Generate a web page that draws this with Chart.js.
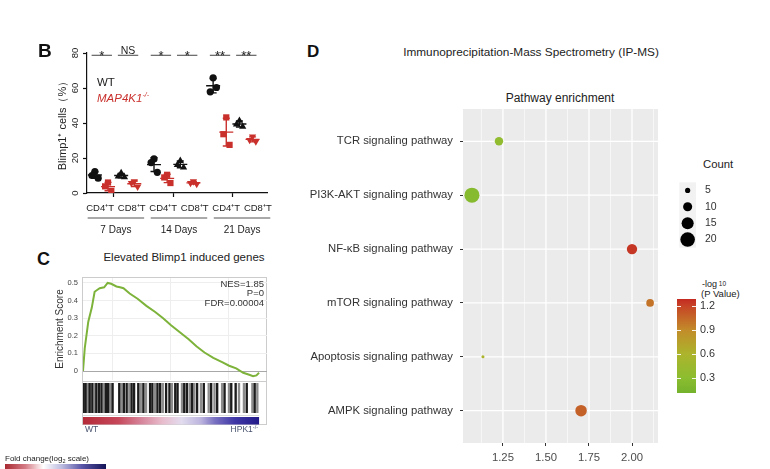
<!DOCTYPE html>
<html><head><meta charset="utf-8">
<script src="https://cdn.jsdelivr.net/npm/chart.js@4.4.1/dist/chart.umd.min.js"></script>
<style>
html,body{margin:0;padding:0;background:#fff;}
body{width:770px;height:469px;overflow:hidden;position:relative;font-family:"Liberation Sans",Arial,sans-serif;color:#222;}
.t{position:absolute;white-space:nowrap;line-height:1;}
canvas{position:absolute;display:block;}
</style></head><body>

<!-- Panel B -->
<canvas id="cB" width="290" height="215" style="left:0;top:30px"></canvas>
<div class="t" style="left:38px;top:40.5px;font-size:19px;font-weight:bold;color:#111">B</div>
<div class="t" style="left:97px;top:76.5px;font-size:11.5px;color:#222">WT</div>
<div class="t" style="left:97px;top:92.5px;font-size:11.5px;color:#c9302c;font-style:italic">MAP4K1<span style="font-size:7px;position:relative;top:-5px">-/-</span></div>

<!-- Panel C -->
<div class="t" style="left:37px;top:249.6px;font-size:18px;font-weight:bold;color:#111">C</div>
<div class="t" style="left:184px;top:251.5px;font-size:11.5px;color:#222;transform:translateX(-50%)">Elevated Blimp1 induced genes</div>
<div style="position:absolute;left:82px;top:277px;width:185px;height:148px;border:1px solid #cccccc;box-sizing:border-box"></div>
<div style="position:absolute;left:82px;top:381px;width:185px;height:1px;background:#cccccc"></div>
<canvas id="cES" width="245" height="115" style="left:30px;top:270px"></canvas>
<canvas id="cBar" width="245" height="50" style="left:30px;top:380px"></canvas>
<div class="t" style="right:506px;top:278.5px;font-size:9.5px;color:#333">NES=1.85</div>
<div class="t" style="right:506px;top:288px;font-size:9.5px;color:#333">P=0</div>
<div class="t" style="right:506px;top:298px;font-size:9.5px;color:#333">FDR=0.00004</div>
<div class="t" style="left:85px;top:425px;font-size:8.5px;color:#4a5470">WT</div>
<div class="t" style="right:512px;top:425px;font-size:8.5px;color:#4a5470">HPK1<span style="font-size:5.5px;position:relative;top:-3px">-/-</span></div>
<div class="t" style="left:5px;top:454.5px;font-size:8px;color:#222">Fold change(log<span style="font-size:5.5px;position:relative;top:2px">2</span> scale)</div>
<div style="position:absolute;left:5px;top:464px;width:101px;height:5px;background:linear-gradient(to right,#a82a32 0%,#d47a84 20%,#ffffff 38%,#bcbce0 56%,#5a56a8 76%,#141458 100%)"></div>

<!-- Panel D -->
<div class="t" style="left:307px;top:42.8px;font-size:17px;font-weight:bold;color:#111">D</div>
<div class="t" style="left:531px;top:47px;font-size:11.8px;color:#222;transform:translateX(-50%)">Immunoprecipitation-Mass Spectrometry (IP-MS)</div>
<div class="t" style="left:560px;top:92.3px;font-size:12px;color:#222;transform:translateX(-50%)">Pathway enrichment</div>
<canvas id="cD" width="380" height="384" style="left:290px;top:85px"></canvas>
<div class="t" style="left:703px;top:159px;font-size:11.3px;color:#222">Count</div>
<canvas id="cCnt" width="80" height="80" style="left:672px;top:175px"></canvas>
<div class="t" style="left:702px;top:280px;font-size:9px;color:#222">-log<span style="font-size:6.5px;position:relative;top:-1px"> 10</span></div>
<div class="t" style="left:701px;top:289px;font-size:9.5px;color:#222">(P Value)</div>
<canvas id="cCol" width="80" height="110" style="left:672px;top:290px"></canvas>

<script>
// ===================== DATA =====================
// Panel B: Blimp1+ cells (%), three replicates per group (7, 14, 21 days)
const dayGroups = ['7 Days', '14 Days', '21 Days'];
const cellLabels = ['CD4⁺T', 'CD8⁺T'];
const wtCD4 = [[12.3, 10.0, 8.5], [19.5, 17.4, 11.8], [65.8, 57.8, 60.3]];
const koCD4 = [[6.0, 3.8, 1.2], [10.4, 8.9, 5.7], [43.2, 33.6, 27.5]];
const wtCD8 = [[11.4, 9.5, 9.0], [18.4, 16.1, 14.6], [41.3, 39.2, 37.9]];
const koCD8 = [[6.6, 5.7, 3.5], [6.6, 5.7, 5.1], [32.2, 30.3, 29.4]];
const sigLabels = [['*', 'NS'], ['*', '*'], ['**', '**']];
const yTicksB = [0, 20, 40, 60, 80];

// Panel C: GSEA running enrichment score (rank % vs ES)
const esRank  = [0, 1, 3, 5, 6.6, 8, 9.5, 12, 14, 16, 19, 21, 23, 26.5, 31, 36, 41, 45.5, 50, 55, 60, 64.4, 69, 74, 79, 83, 87, 91, 94, 96.6, 98.5, 100];
const esScore = [0, 0.13, 0.28, 0.36, 0.45, 0.46, 0.47, 0.475, 0.50, 0.495, 0.48, 0.475, 0.47, 0.44, 0.41, 0.37, 0.335, 0.30, 0.26, 0.22, 0.18, 0.14, 0.105, 0.075, 0.05, 0.03, 0.015, -0.01, -0.02, -0.03, -0.025, -0.01];
const esTicks = [0, 0.1, 0.2, 0.3, 0.4, 0.5];
const esGridX = [16.5, 49.5, 82.5];
const hitsDark  = [0.4, 1.5, 3.8, 5.3, 7.6, 9.1, 10.5, 13.0, 14.3, 16.8, 20.6, 23.2, 24.8, 27.6, 29.0, 31.4, 34.3, 38.1, 39.4, 42.3, 43.8, 47.2, 49.1, 52.4, 53.7, 57.5, 59.0, 61.9, 64.8, 68.6, 72.8, 76.2, 80.4, 84.2, 86.7, 93.0, 97.5];
const hitsLight = [2.9, 6.7, 11.8, 15.6, 21.9, 26.3, 32.8, 35.8, 41.0, 45.3, 50.5, 56.2, 60.6, 63.2, 67.0, 71.4, 74.7, 79.0, 82.9, 88.6, 91.4, 96.2, 99.0];
const heatStops = [[0, '#b42a38'], [0.2, '#c6485a'], [0.33, '#d6849a'], [0.45, '#e8bccc'], [0.56, '#e2dcee'], [0.67, '#bcb4de'], [0.75, '#7870c0'], [0.86, '#4038a6'], [1, '#221a88']];

// Panel D: pathway enrichment
const pathways = ['TCR signaling pathway', 'PI3K-AKT signaling pathway', 'NF-κB signaling pathway', 'mTOR signaling pathway', 'Apoptosis signaling pathway', 'AMPK signaling pathway'];
const enrichment = [1.227, 1.07, 2.00, 2.105, 1.134, 1.704];
const counts = [9, 21, 12, 8, 3, 14];
const negLogP = [0.35, 0.25, 1.25, 1.0, 0.6, 1.08];
const xTicksD = [1.25, 1.50, 1.75, 2.00];
const xMinorD = [1.125, 1.375, 1.625, 1.875, 2.125];
const countBreaks = [5, 10, 15, 20];
const pBreaks = [0.3, 0.6, 0.9, 1.2];
const pLimits = [0.11, 1.29];
const pStops = [[0.11, '#74b22c'], [0.3, '#8cbd30'], [0.6, '#acb42c'], [0.9, '#c28c2a'], [1.2, '#c64426'], [1.29, '#c42a22']];

// ===================== HELPERS =====================
const FONT = "'Liberation Sans', Arial, sans-serif";
Chart.defaults.font.family = FONT;
Chart.defaults.color = '#333';
const RED = '#c9302c';
const noPad = sc => { sc.paddingTop = 0; sc.paddingBottom = 0; sc.paddingLeft = 0; sc.paddingRight = 0; };
const baseOpts = { responsive: false, animation: false, events: [], plugins: { legend: { display: false }, tooltip: { enabled: false } } };
function hexRgb(h) { return [1, 3, 5].map(i => parseInt(h.substr(i, 2), 16)); }
function colorOf(v) {
  for (let i = 0; i < pStops.length - 1; i++) {
    const [a, ca] = pStops[i], [b, cb] = pStops[i + 1];
    if (v <= b || i === pStops.length - 2) {
      const t = Math.max(0, Math.min(1, (v - a) / (b - a)));
      const A = hexRgb(ca), B = hexRgb(cb);
      return 'rgb(' + A.map((x, k) => Math.round(x + (B[k] - x) * t)).join(',') + ')';
    }
  }
}
const sizeOf = c => 2.1 * Math.sqrt(c) - 2.1;

// ===================== PANEL B =====================
const GROUP_STEP = 4.5;
const slot = (g, s) => g * GROUP_STEP + s;
const groupCenter = g => g * GROUP_STEP + 1.6 + g * 0.3;
const jitter = [0, -0.22, 0.25];
const seriesB = [
  { data: wtCD4, s: 0, color: '#111', style: 'circle', rot: 0, r: 3.6 },
  { data: koCD4, s: 1, color: RED, style: 'rect', rot: 0, r: 4.4 },
  { data: wtCD8, s: 2, color: '#111', style: 'triangle', rot: 0, r: 4.2 },
  { data: koCD8, s: 3, color: RED, style: 'triangle', rot: 180, r: 4.2 }
];
const bPlugin = {
  id: 'bExtras',
  afterDatasetsDraw(chart) {
    const { ctx, scales: { x, y } } = chart;
    ctx.save();
    seriesB.forEach(sr => {
      sr.data.forEach((vals, g) => {
        const m = vals.reduce((a, b) => a + b, 0) / vals.length;
        const sd = Math.sqrt(vals.reduce((a, b) => a + (b - m) * (b - m), 0) / (vals.length - 1));
        const cx = x.getPixelForValue(slot(g, sr.s));
        const ym = y.getPixelForValue(m), y1 = y.getPixelForValue(m - sd), y2 = y.getPixelForValue(m + sd);
        ctx.strokeStyle = sr.color; ctx.lineWidth = 1.4;
        ctx.beginPath();
        ctx.moveTo(cx - 7, ym); ctx.lineTo(cx + 7, ym);
        ctx.moveTo(cx, y1); ctx.lineTo(cx, y2);
        ctx.moveTo(cx - 3.5, y1); ctx.lineTo(cx + 3.5, y1);
        ctx.moveTo(cx - 3.5, y2); ctx.lineTo(cx + 3.5, y2);
        ctx.stroke();
      });
    });
    ctx.restore();
  },
  afterDraw(chart) {
    const { ctx, scales: { x, y } } = chart;
    ctx.save();
    const ly = y.getPixelForValue(78.7);
    dayGroups.forEach((d, g) => {
      [0, 1].forEach(c => {
        const x1 = x.getPixelForValue(slot(g, 2 * c) - 0.25), x2 = x.getPixelForValue(slot(g, 2 * c + 1) + 0.3);
        ctx.strokeStyle = '#444'; ctx.lineWidth = 1;
        ctx.beginPath(); ctx.moveTo(x1, ly); ctx.lineTo(x2, ly); ctx.stroke();
        const lab = sigLabels[g][c];
        ctx.fillStyle = '#222'; ctx.textAlign = 'center'; ctx.textBaseline = 'alphabetic';
        if (lab === 'NS') { ctx.font = '10.5px ' + FONT; ctx.fillText(lab, (x1 + x2) / 2, ly - 1.5); }
        else { ctx.font = '13px ' + FONT; ctx.fillText(lab, (x1 + x2) / 2, ly + 4.5); }
      });
    });
    const base = chart.chartArea.bottom;
    ctx.fillStyle = '#222'; ctx.textAlign = 'center'; ctx.textBaseline = 'middle';
    dayGroups.forEach((d, g) => {
      const c = groupCenter(g);
      ctx.font = '9.5px ' + FONT;
      ctx.fillText(cellLabels[0], x.getPixelForValue(c - 1.2), base + 15);
      ctx.fillText(cellLabels[1], x.getPixelForValue(c + 1.2), base + 15);
      ctx.strokeStyle = '#555'; ctx.lineWidth = 1;
      ctx.beginPath(); ctx.moveTo(x.getPixelForValue(c - 2.15), base + 25); ctx.lineTo(x.getPixelForValue(c + 2.15), base + 25); ctx.stroke();
      ctx.font = '10px ' + FONT;
      ctx.fillText(d, x.getPixelForValue(c), base + 37);
    });
    ctx.restore();
  }
};
new Chart(document.getElementById('cB'), {
  type: 'scatter',
  data: {
    datasets: seriesB.map(sr => ({
      data: sr.data.flatMap((vals, g) => vals.map((v, r) => ({ x: slot(g, sr.s) + jitter[r], y: v }))),
      pointStyle: sr.style, pointRotation: sr.rot, pointRadius: sr.r, pointHoverRadius: sr.r,
      pointBackgroundColor: sr.color, pointBorderColor: sr.color, pointBorderWidth: 0, showLine: false
    }))
  },
  options: Object.assign({}, baseOpts, {
    layout: { padding: { left: 56, right: 23, top: 23, bottom: 0 } },
    scales: {
      x: {
        type: 'linear', min: -0.6, max: 13.1,
        afterBuildTicks: sc => { sc.ticks = dayGroups.map((d, g) => ({ value: g * GROUP_STEP + 1.45 })); },
        afterFit: sc => { sc.height = 52; noPad(sc); },
        ticks: { display: false },
        grid: { display: true, drawOnChartArea: false, drawTicks: true, tickLength: 4, tickColor: '#111', tickWidth: 1.2 },
        border: { display: true, color: '#111', width: 1.2 }
      },
      y: {
        min: 0, max: 80,
        afterBuildTicks: sc => { sc.ticks = yTicksB.map(v => ({ value: v })); },
        afterFit: sc => { sc.width = 31; noPad(sc); },
        ticks: { minRotation: 90, maxRotation: 90, crossAlign: 'center', padding: 2, color: '#222', font: { size: 9.5 } },
        grid: { drawOnChartArea: false, drawTicks: true, tickLength: 4, tickColor: '#111', tickWidth: 1.2 },
        border: { display: true, color: '#111', width: 1.2 },
        title: { display: true, text: 'Blimp1⁺ cells（%）', padding: 0, color: '#222', font: { size: 11 } }
      }
    }
  }),
  plugins: [bPlugin]
});

// ===================== PANEL C =====================
new Chart(document.getElementById('cES'), {
  type: 'line',
  data: { datasets: [{ data: esRank.map((r, i) => ({ x: r, y: esScore[i] })), borderColor: '#7db33a', borderWidth: 2, pointRadius: 0, tension: 0, fill: false }] },
  options: Object.assign({}, baseOpts, {
    layout: { padding: { left: 24, right: 8, top: 8, bottom: 5 } },
    scales: {
      x: {
        type: 'linear', min: 0, max: 104.5,
        afterBuildTicks: sc => { sc.ticks = esGridX.map(v => ({ value: v })); },
        afterFit: sc => { sc.height = 0; noPad(sc); },
        ticks: { display: false },
        grid: { color: '#eeeeee', lineWidth: 1, drawTicks: false },
        border: { display: false }
      },
      y: {
        min: -0.051, max: 0.528,
        afterBuildTicks: sc => { sc.ticks = esTicks.map(v => ({ value: v })); },
        afterFit: sc => { sc.width = 29; noPad(sc); },
        ticks: { padding: 5, color: '#444', font: { size: 7.5 }, callback: v => String(v) },
        grid: { color: c => (c.tick && c.tick.value === 0) ? '#a8a8a8' : '#eeeeee', lineWidth: 1, drawTicks: false },
        border: { display: false },
        title: { display: true, text: 'Enrichment Score', padding: 0, color: '#333', font: { size: 10 } }
      }
    }
  })
});

const heatPlugin = {
  id: 'heat',
  afterDraw(chart) {
    const { ctx, scales: { x } } = chart;
    const x0 = x.getPixelForValue(0), x1 = x.getPixelForValue(100);
    const g = ctx.createLinearGradient(x0, 0, x1, 0);
    heatStops.forEach(([f, c]) => g.addColorStop(f, c));
    ctx.save();
    ctx.fillStyle = '#d8d8d8'; ctx.fillRect(x0, 35, x1 - x0, 1);
    ctx.fillStyle = g; ctx.fillRect(x0, 37, x1 - x0, 7.5);
    ctx.restore();
  }
};
new Chart(document.getElementById('cBar'), {
  type: 'bar',
  data: {
    datasets: [
      { data: hitsDark.map(r => ({ x: r, y: 1 })), backgroundColor: '#1c1c1c', barThickness: 1.7, grouped: false },
      { data: hitsLight.map(r => ({ x: r, y: 1 })), backgroundColor: '#8c8c8c', barThickness: 1.7, grouped: false }
    ]
  },
  options: Object.assign({}, baseOpts, {
    layout: { padding: { left: 53, right: 8, top: 3, bottom: 17 } },
    scales: {
      x: { type: 'linear', display: false, min: 0, max: 104.5, offset: false },
      y: { display: false, min: 0, max: 1 }
    }
  }),
  plugins: [heatPlugin]
});

// ===================== PANEL D =====================
// grey panel + white grid drawn just before the points
function makePanel(fill, gridX, gridY) {
  return {
    id: 'panel_' + fill.replace('#', ''),
    beforeDatasetsDraw(chart) {
      const { ctx, chartArea: a, scales } = chart;
      ctx.save();
      ctx.fillStyle = fill;
      ctx.fillRect(a.left, a.top, a.right - a.left, a.bottom - a.top);
      ctx.strokeStyle = '#ffffff';
      gridX.forEach(([vals, lw]) => {
        ctx.lineWidth = lw;
        vals.forEach(v => { const px = scales.x.getPixelForValue(v); ctx.beginPath(); ctx.moveTo(px, a.top); ctx.lineTo(px, a.bottom); ctx.stroke(); });
      });
      gridY.forEach(([vals, lw]) => {
        ctx.lineWidth = lw;
        vals.forEach(v => { const py = scales.y.getPixelForValue(v); ctx.beginPath(); ctx.moveTo(a.left, py); ctx.lineTo(a.right, py); ctx.stroke(); });
      });
      ctx.restore();
    }
  };
}
new Chart(document.getElementById('cD'), {
  type: 'scatter',
  data: {
    datasets: [{
      data: pathways.map((p, i) => ({ x: enrichment[i], y: i + 1 })),
      pointRadius: counts.map(sizeOf), pointHoverRadius: counts.map(sizeOf),
      pointBackgroundColor: negLogP.map(colorOf), pointBorderWidth: 0
    }]
  },
  options: Object.assign({}, baseOpts, {
    layout: { padding: { left: 0, right: 12, top: 24, bottom: 0 } },
    scales: {
      x: {
        type: 'linear', min: 1.018, max: 2.151,
        afterBuildTicks: sc => { sc.ticks = xTicksD.map(v => ({ value: v })); },
        afterFit: sc => { sc.height = 26; noPad(sc); },
        ticks: { callback: v => v.toFixed(2), color: '#4d4d4d', font: { size: 11.3 }, padding: 5, maxRotation: 0 },
        grid: { drawOnChartArea: false, tickLength: 3, tickColor: '#333', tickWidth: 1 },
        border: { display: false }
      },
      y: {
        type: 'linear', reverse: true, min: 0.4, max: 6.6,
        afterBuildTicks: sc => { sc.ticks = pathways.map((p, i) => ({ value: i + 1 })); },
        afterFit: sc => { sc.width = 173; noPad(sc); },
        ticks: { callback: (v, i) => pathways[i], color: '#333', font: { size: 11.3 }, padding: 7 },
        grid: { drawOnChartArea: false, tickLength: 3, tickColor: '#333', tickWidth: 1 },
        border: { display: false }
      }
    }
  }),
  plugins: [makePanel('#ebebeb', [[xMinorD, 0.6], [xTicksD, 1.3]], [[pathways.map((p, i) => i + 1), 1.3]])]
});

// Count legend
new Chart(document.getElementById('cCnt'), {
  type: 'scatter',
  data: { datasets: [{ data: countBreaks.map((c, i) => ({ x: 0.5, y: i + 1 })), pointRadius: countBreaks.map(sizeOf), pointHoverRadius: countBreaks.map(sizeOf), pointBackgroundColor: '#000', pointBorderWidth: 0 }] },
  options: Object.assign({}, baseOpts, {
    layout: { padding: { left: 5, right: 0, top: 3, bottom: 5 } },
    scales: {
      x: { type: 'linear', display: false, min: 0, max: 1 },
      y: {
        type: 'linear', position: 'right', reverse: true, min: 0.5, max: 4.5,
        afterBuildTicks: sc => { sc.ticks = countBreaks.map((c, i) => ({ value: i + 1 })); },
        afterFit: sc => { sc.width = 56; noPad(sc); },
        ticks: { callback: (v, i) => String(countBreaks[i]), padding: 9, color: '#333', font: { size: 10.5 } },
        grid: { display: false, drawTicks: false },
        border: { display: false }
      }
    }
  }),
  plugins: [makePanel('#f2f2f2', [], [])]
});

// Colour bar
const barTicks = {
  id: 'barTicks',
  afterDatasetsDraw(chart) {
    const { ctx, chartArea: a, scales: { y } } = chart;
    ctx.save(); ctx.strokeStyle = 'rgba(255,255,255,0.9)'; ctx.lineWidth = 1;
    pBreaks.forEach(v => {
      const py = Math.round(y.getPixelForValue(v)) + 0.5;
      ctx.beginPath(); ctx.moveTo(a.left, py); ctx.lineTo(a.left + 4, py);
      ctx.moveTo(a.right - 4, py); ctx.lineTo(a.right, py); ctx.stroke();
    });
    ctx.restore();
  }
};
new Chart(document.getElementById('cCol'), {
  type: 'bar',
  data: {
    labels: [''],
    datasets: [{
      data: [[pLimits[0], pLimits[1]]],
      backgroundColor: c => {
        const ch = c.chart; if (!ch.chartArea) return '#c28c2a';
        const y = ch.scales.y;
        const g = ch.ctx.createLinearGradient(0, y.getPixelForValue(pLimits[0]), 0, y.getPixelForValue(pLimits[1]));
        pStops.forEach(([v, col]) => g.addColorStop((v - pLimits[0]) / (pLimits[1] - pLimits[0]), col));
        return g;
      },
      barPercentage: 1, categoryPercentage: 1, borderWidth: 0, borderSkipped: false
    }]
  },
  options: Object.assign({}, baseOpts, {
    layout: { padding: { left: 5, right: 0, top: 9, bottom: 7 } },
    scales: {
      x: { display: false },
      y: {
        position: 'right', min: pLimits[0], max: pLimits[1],
        afterBuildTicks: sc => { sc.ticks = pBreaks.map(v => ({ value: v })); },
        afterFit: sc => { sc.width = 56; noPad(sc); },
        ticks: { callback: v => v.toFixed(1), padding: 4, color: '#333', font: { size: 10.8 } },
        grid: { display: false, drawTicks: false },
        border: { display: false }
      }
    }
  }),
  plugins: [barTicks]
});
</script>
</body></html>
